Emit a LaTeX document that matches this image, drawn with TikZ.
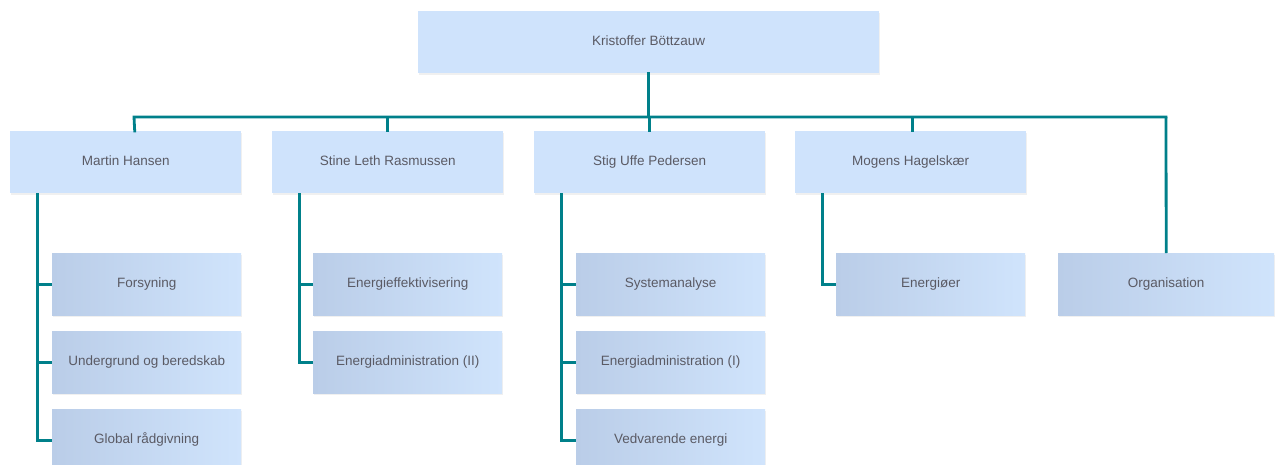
\documentclass[tikz,border=0pt]{standalone}
\usepackage{fontspec}
\setmainfont{Liberation Sans}
\usetikzlibrary{shadows}
\definecolor{teal1}{RGB}{0,128,138}
\definecolor{mgrfill}{RGB}{207,227,252}
\definecolor{childA}{RGB}{186,205,232}
\definecolor{childB}{RGB}{208,228,252}
\definecolor{txt}{RGB}{90,90,100}
\tikzset{
  base/.style={inner sep=0pt, text=txt, font=\fontsize{13.5}{16}\selectfont,
    text height=10pt, text depth=3pt,
    drop shadow={opacity=0.12, shadow xshift=0.8pt, shadow yshift=-1.5pt}},
  topbox/.style={base, fill=mgrfill, minimum width=461pt, minimum height=62pt, anchor=north west},
  mgrbox/.style={base, fill=mgrfill, minimum width=231pt, minimum height=62pt, anchor=north west},
  childbox/.style={base, left color=childA, right color=childB, minimum width=189pt, minimum height=62pt, anchor=north west},
  conn/.style={draw=teal1, line width=2.8pt, line cap=rect},
}
\begin{document}
\begin{tikzpicture}[x=1pt,y=-1pt]
\useasboundingbox (0,0) rectangle (1276,465);
\clip (0,0) rectangle (1276,465);
% nodes
\node[topbox] (top) at (418,11) {Kristoffer Böttzauw};
\node[mgrbox] (m1) at (10,131) {Martin Hansen};
\node[mgrbox] (m2) at (272,131) {Stine Leth Rasmussen};
\node[mgrbox] (m3) at (534,131) {Stig Uffe Pedersen};
\node[mgrbox] (m4) at (795,131) {Mogens Hagelskær};
\node[childbox, minimum width=216pt] (org) at (1058,253) {Organisation};

\node[childbox] (c11) at (52,253) {Forsyning};
\node[childbox] (c12) at (52,331) {Undergrund og beredskab};
\node[childbox] (c13) at (52,409) {Global rådgivning};

\node[childbox] (c21) at (313,253) {Energieffektivisering};
\node[childbox] (c22) at (313,331) {Energiadministration (II)};

\node[childbox] (c31) at (576,253) {Systemanalyse};
\node[childbox] (c32) at (576,331) {Energiadministration (I)};
\node[childbox] (c33) at (576,409) {Vedvarende energi};

\node[childbox] (c41) at (836,253) {Energiøer};

% bus
\coordinate (busL) at (134,117);
\coordinate (busR) at (1166,117);
\draw[conn] (top.south) -- (top.south |- busL);
\draw[conn] ([xshift=9pt]m1.north) -- (busL) -- (busR);
\draw[conn, line cap=butt] (busR) -- (org.north);
\draw[conn] (m2.north) -- (m2.north |- busL);
\draw[conn] (m3.north) -- (m3.north |- busL);
\draw[conn] ([xshift=2pt]m4.north) -- ([xshift=2pt]m4.north |- busL);

% children connectors
\foreach \m/\c in {m1/c11,m1/c12,m1/c13,m2/c21,m2/c22,m3/c31,m3/c32,m3/c33,m4/c41}{
  \draw[conn, line cap=butt] ([xshift=27.5pt]\m.south west) |- (\c.west);
}
\end{tikzpicture}
\end{document}
